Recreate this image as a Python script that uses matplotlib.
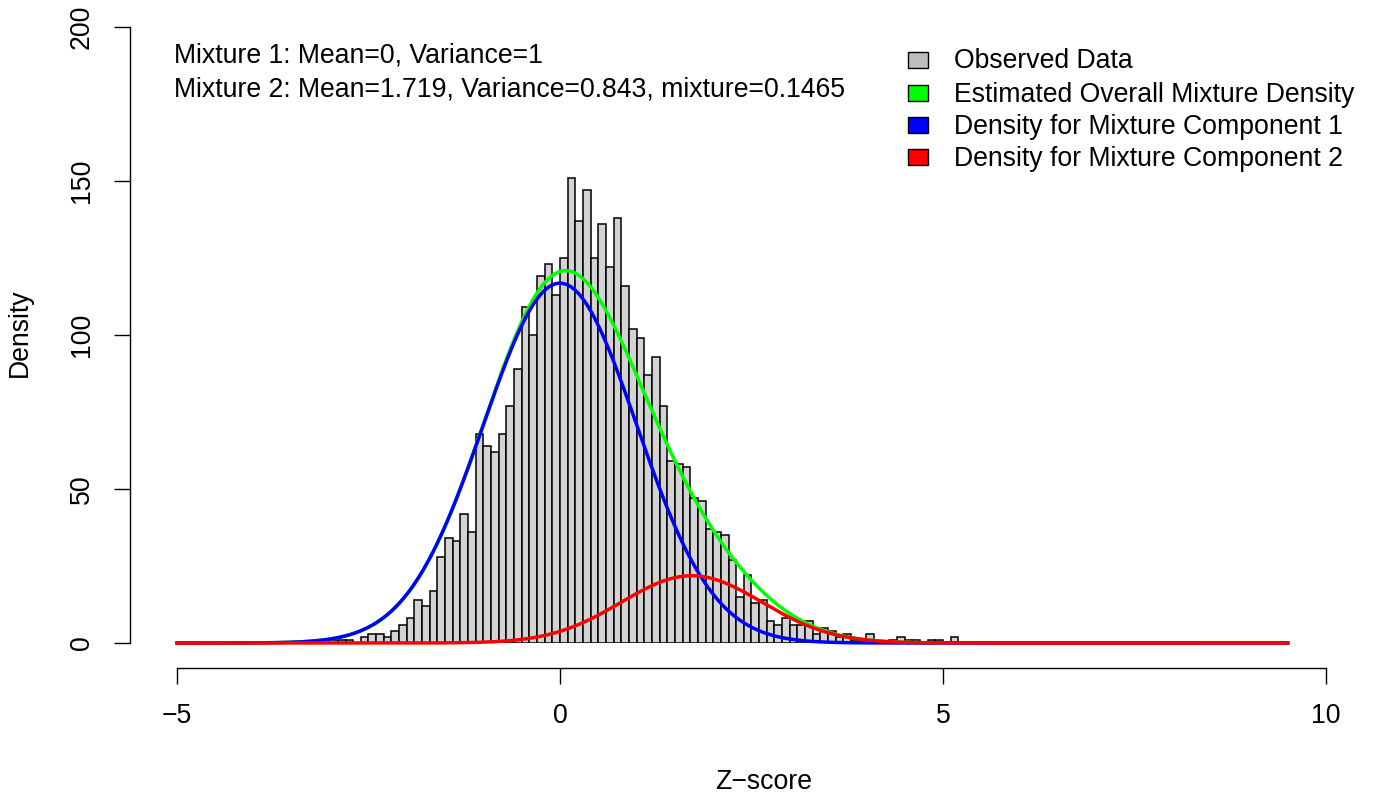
import numpy as np
import matplotlib
matplotlib.use("Agg")
import matplotlib.pyplot as plt
from matplotlib.patches import Rectangle

plt.rcParams['font.family'] = ['Liberation Sans', 'DejaVu Sans']

# ---- data ----
bin_start = -3.0
bin_width = 0.1
counts = [1, 1, 1, 0, 2, 3, 3, 2, 4, 6,
          8, 14, 12, 17, 28, 34, 33, 42, 36, 68,
          64, 62, 68, 77, 89, 109, 100, 119, 123, 113,
          125, 151, 137, 147, 125, 136, 122, 138, 116, 102,
          99, 87, 93, 77, 59, 58, 57, 47, 46, 37,
          36, 35, 27, 15, 22, 13, 14, 7, 6, 8,
          6, 6, 7, 3, 5, 4, 2, 3, 1, 1,
          3, 0, 0, 1, 2, 1, 1, 0, 1, 1, 0, 2]
mean1, var1 = 0.0, 1.0
mean2, var2, mix2 = 1.719, 0.843, 0.1465
curve_range = (-5.0, 9.5)
xticks = [-5, 0, 5, 10]
yticks = [0, 50, 100, 150, 200]
legend_labels = ["Observed Data", "Estimated Overall Mixture Density",
                 "Density for Mixture Component 1", "Density for Mixture Component 2"]
legend_colors = ["#BEBEBE", "#00FF00", "#0000FF", "#FF0000"]
info_lines = ["Mixture 1: Mean=0, Variance=1",
              "Mixture 2: Mean=1.719, Variance=0.843, mixture=0.1465"]

# ---- figure ----
W, H = 1373, 798
FS = 19.2
fig = plt.figure(figsize=(W / 100, H / 100), dpi=100)
ax = fig.add_axes([177 / W, (H - 643) / H, (1326 - 177) / W, (643 - 27) / H])

lefts = bin_start + bin_width * np.arange(len(counts))
ax.bar(lefts, counts, width=bin_width, align='edge', color='#D3D3D3',
       edgecolor='black', linewidth=1.1, zorder=1)

def npdf(x, m, v):
    return np.exp(-(x - m) ** 2 / (2 * v)) / np.sqrt(2 * np.pi * v)

n_total = sum(counts)
scale = n_total * bin_width
xs = np.linspace(curve_range[0], curve_range[1], 1500)
c1 = (1 - mix2) * scale * npdf(xs, mean1, var1)
c2 = mix2 * scale * npdf(xs, mean2, var2)
tot = c1 + c2
ax.plot(xs, tot, color='#00FF00', lw=2.5, clip_on=False, zorder=2)
ax.plot(xs, c1, color='#0000FF', lw=2.5, clip_on=False, zorder=3)
ax.plot(xs, c2, color='#FF0000', lw=2.5, clip_on=False, zorder=4)

ax.set_xlim(-5, 10)
ax.set_ylim(0, 200)
for s in ['top', 'right']:
    ax.spines[s].set_visible(False)
ax.spines['left'].set_position(('outward', 47 * 0.72))
ax.spines['bottom'].set_position(('outward', 25 * 0.72))
ax.spines['left'].set_bounds(0, 200)
ax.spines['bottom'].set_bounds(-5, 10)
for s in ['left', 'bottom']:
    ax.spines[s].set_linewidth(1.0)
ax.set_xticks(xticks)
ax.set_yticks(yticks)
ax.set_yticklabels([str(v) for v in yticks], rotation=90, va='center')
ax.tick_params(axis='both', length=11.5, width=1.0, labelsize=FS, pad=14)
ax.patch.set_visible(False)

fig.text(764 / W, 1 - 782 / H, "Z\u2212score", ha='center', va='center', fontsize=FS)
fig.text(20 / W, 1 - 333 / H, "Density", ha='center', va='center', rotation=90, fontsize=FS)

for i, line in enumerate(info_lines):
    fig.text(174 / W, 1 - (63 + 33 * i) / H, line, ha='left', va='baseline', fontsize=FS)

row_y = [59.5, 92.5, 124.5, 156.5]
for lab, col, yc in zip(legend_labels, legend_colors, row_y):
    fig.add_artist(Rectangle(((918 - 10) / W, 1 - (yc + 8) / H), 20 / W, 16 / H,
                             transform=fig.transFigure, facecolor=col,
                             edgecolor='black', linewidth=1.0))
    fig.text(954 / W, 1 - (yc + 9) / H, lab, ha='left', va='baseline', fontsize=FS)

fig.savefig("out.png", dpi=100)
